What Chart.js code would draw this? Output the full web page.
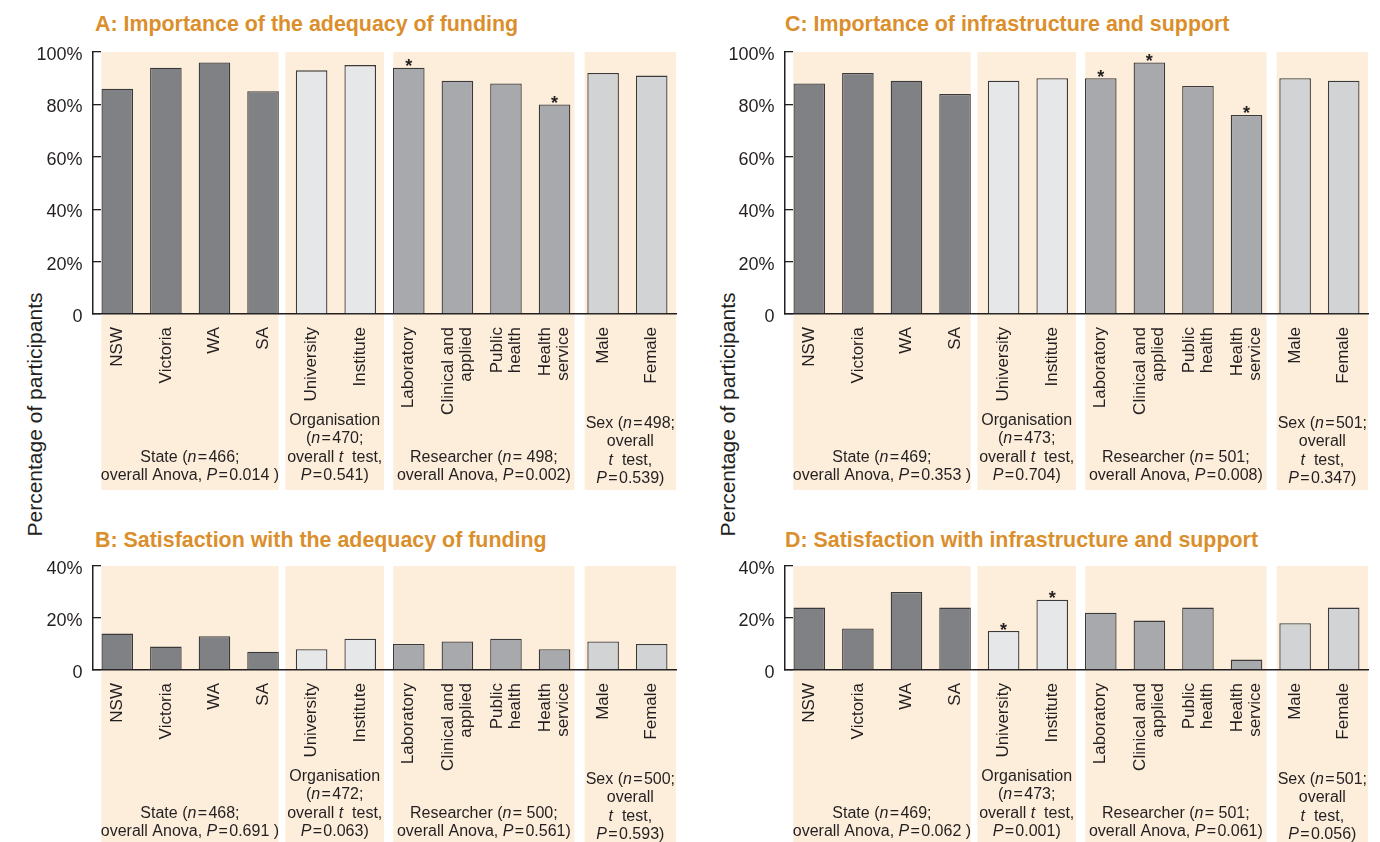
<!DOCTYPE html>
<html><head><meta charset="utf-8">
<script src="https://cdn.jsdelivr.net/npm/chart.js@4"></script>
<style>
html,body{margin:0;padding:0;background:#fff;}
body{width:1380px;height:842px;position:relative;overflow:hidden;font-family:"Liberation Sans",Arial,sans-serif;}
canvas{position:absolute;}
.title{position:absolute;font:bold 21.4px "Liberation Sans",Arial,sans-serif;color:#DB8F2C;line-height:21px;white-space:nowrap;}
.ytitle{position:absolute;width:400px;text-align:center;font:21px "Liberation Sans",Arial,sans-serif;color:#231F20;line-height:21px;transform:rotate(-90deg);white-space:nowrap;}
</style></head>
<body>
<div class="title" style="left:95px;top:14px">A: Importance of the adequacy of funding</div>
<div class="title" style="left:95px;top:530px">B: Satisfaction with the adequacy of funding</div>
<div class="title" style="left:785px;top:14px">C: Importance of infrastructure and support</div>
<div class="title" style="left:785px;top:530px">D: Satisfaction with infrastructure and support</div>
<div class="ytitle" style="left:-166px;top:404px">Percentage of participants</div>
<div class="ytitle" style="left:527px;top:404px">Percentage of participants</div>
<canvas id="cA" width="690" height="500" style="left:0;top:0"></canvas>
<canvas id="cB" width="690" height="322" style="left:0;top:520px"></canvas>
<canvas id="cC" width="690" height="500" style="left:690px;top:0"></canvas>
<canvas id="cD" width="690" height="322" style="left:690px;top:520px"></canvas>
<script>
// ---------- data ----------
const categories = [['NSW'],['Victoria'],['WA'],['SA'],['University'],['Institute'],['Laboratory'],['Clinical and','applied'],['Public','health'],['Health','service'],['Male'],['Female']];
const groupSizes = [4, 2, 4, 2];

const valuesA = [86, 94, 96, 85, 93, 95, 94, 89, 88, 80, 92, 91];
const valuesB = [14, 9, 13, 7, 8, 12, 10, 11, 12, 8, 11, 10];
const valuesC = [88, 92, 89, 84, 89, 90, 90, 96, 87, 76, 90, 89];
const valuesD = [24, 16, 30, 24, 15, 27, 22, 19, 24, 4, 18, 24];

const starsA = [6, 9];
const starsB = [];
const starsC = [6, 7, 9];
const starsD = [4, 5];

const yTicksImportance = [0, 20, 40, 60, 80, 100];
const yTicksSatisfaction = [0, 20, 40];

const groupLabelsA = [
  ['State (_n_\u200A=\u200A466;', 'overall Anova, _P_\u200A=\u200A0.014 )'],
  ['Organisation', '(_n_\u200A=\u200A470;', 'overall _t_  test,', '_P_\u200A=\u200A0.541)'],
  ['Researcher (_n_\u200A= 498;', 'overall Anova, _P_\u200A=\u200A0.002)'],
  ['Sex (_n_\u200A=\u200A498;', 'overall', '_t_  test,', '_P_\u200A=\u200A0.539)']
];
const groupLabelsB = [
  ['State (_n_\u200A=\u200A468;', 'overall Anova, _P_\u200A=\u200A0.691 )'],
  ['Organisation', '(_n_\u200A=\u200A472;', 'overall _t_  test,', '_P_\u200A=\u200A0.063)'],
  ['Researcher (_n_\u200A= 500;', 'overall Anova, _P_\u200A=\u200A0.561)'],
  ['Sex (_n_\u200A=\u200A500;', 'overall', '_t_  test,', '_P_\u200A=\u200A0.593)']
];
const groupLabelsC = [
  ['State (_n_\u200A=\u200A469;', 'overall Anova, _P_\u200A=\u200A0.353 )'],
  ['Organisation', '(_n_\u200A=\u200A473;', 'overall _t_  test,', '_P_\u200A=\u200A0.704)'],
  ['Researcher (_n_\u200A= 501;', 'overall Anova, _P_\u200A=\u200A0.008)'],
  ['Sex (_n_\u200A=\u200A501;', 'overall', '_t_  test,', '_P_\u200A=\u200A0.347)']
];
const groupLabelsD = [
  ['State (_n_\u200A=\u200A469;', 'overall Anova, _P_\u200A=\u200A0.062 )'],
  ['Organisation', '(_n_\u200A=\u200A473;', 'overall _t_  test,', '_P_\u200A=\u200A0.001)'],
  ['Researcher (_n_\u200A= 501;', 'overall Anova, _P_\u200A=\u200A0.061)'],
  ['Sex (_n_\u200A=\u200A501;', 'overall', '_t_  test,', '_P_\u200A=\u200A0.056)']
];

// ---------- style ----------
const FONT = '"Liberation Sans", Arial, sans-serif';
const INK = '#231F20';
const groupColors = ['#808184', '#E6E7E8', '#A7A9AC', '#D1D3D4'];
const bandColor = '#FDEEDC';
const bandEdges = [[-0.33, 0.32], [-0.54, 0.49], [-0.32, 0.41], [-0.38, 0.5]];
const groupDrop = [0, 0, 0, 3];

const barColors = [];
groupSizes.forEach((n, g) => { for (let i = 0; i < n; i++) barColors.push(groupColors[g]); });

function drawRich(ctx, text, cx, cy) {
  const parts = text.split('_');
  let total = 0;
  const widths = parts.map((p, i) => {
    ctx.font = (i % 2 ? 'italic ' : '') + '16px ' + FONT;
    const w = ctx.measureText(p).width; total += w; return w;
  });
  let x = cx - total / 2;
  parts.forEach((p, i) => {
    ctx.font = (i % 2 ? 'italic ' : '') + '16px ' + FONT;
    ctx.fillText(p, x, cy);
    x += widths[i];
  });
}

const panelPlugin = {
  id: 'panel',
  beforeDraw(chart, args, opts) {
    const { ctx, chartArea } = chart;
    const xs = chart.scales.x;
    // centre multi-line rotated tick labels on their category
    xs.getLabelItems(chart.chartArea).forEach(it => {
      const n = Array.isArray(it.label) ? it.label.length : 1;
      if (n > 1 && !it._centred) {
        it.options.translation[0] -= (n - 1) * it.font.lineHeight / 2;
        it._centred = true;
      }
    });
    const pitch = xs.getPixelForValue(1) - xs.getPixelForValue(0);
    ctx.save();
    ctx.fillStyle = bandColor;
    let start = 0;
    groupSizes.forEach((n, g) => {
      const x0 = xs.getPixelForValue(start) + bandEdges[g][0] * pitch;
      const x1 = xs.getPixelForValue(start + n - 1) + bandEdges[g][1] * pitch;
      ctx.fillRect(x0, chartArea.top, x1 - x0, chartArea.bottom + opts.depth - chartArea.top);
      start += n;
    });
    ctx.restore();
  },
  afterDatasetsDraw(chart, args, opts) {
    const { ctx } = chart;
    const meta = chart.getDatasetMeta(0);
    ctx.save();
    ctx.fillStyle = INK;
    ctx.font = 'bold 18px ' + FONT;
    ctx.textAlign = 'center';
    ctx.textBaseline = 'alphabetic';
    opts.stars.forEach(i => {
      const bar = meta.data[i];
      ctx.fillText('*', bar.x, bar.y + 4.5);
    });
    ctx.restore();
  },
  afterDraw(chart, args, opts) {
    const { ctx, chartArea } = chart;
    const xs = chart.scales.x;
    const pitch = xs.getPixelForValue(1) - xs.getPixelForValue(0);
    ctx.save();
    ctx.fillStyle = INK;
    ctx.textAlign = 'left';
    ctx.textBaseline = 'middle';
    let start = 0;
    groupSizes.forEach((n, g) => {
      const x0 = xs.getPixelForValue(start) + bandEdges[g][0] * pitch;
      const x1 = xs.getPixelForValue(start + n - 1) + bandEdges[g][1] * pitch;
      const cx = (x0 + x1) / 2;
      const lines = opts.groupText[g];
      const last = chartArea.bottom + opts.labelBase + groupDrop[g];
      lines.forEach((t, i) => {
        drawRich(ctx, t, cx, last - (lines.length - 1 - i) * 18.6);
      });
      start += n;
    });
    ctx.restore();
  }
};

function makeChart(id, values, stars, yTicks, groupText, leftW, rightPad, topPad, axisH, depth) {
  const yMax = yTicks[yTicks.length - 1];
  return new Chart(document.getElementById(id), {
    type: 'bar',
    data: {
      labels: categories,
      datasets: [{
        data: values,
        backgroundColor: barColors,
        borderColor: '#3A3A3A',
        borderWidth: 1.3,
        barPercentage: 0.65,
        categoryPercentage: 1
      }]
    },
    options: {
      responsive: false,
      animation: false,
      layout: { padding: { top: topPad, right: rightPad, left: 0, bottom: 0 } },
      plugins: {
        legend: { display: false },
        tooltip: { enabled: false },
        panel: { stars: stars, groupText: groupText, depth: depth, labelBase: 162 }
      },
      scales: {
        x: {
          grid: { drawOnChartArea: false, drawTicks: false },
          border: { display: true, color: INK, width: 1.5 },
          ticks: {
            autoSkip: false, maxRotation: 90, minRotation: 90, padding: 13,
            color: INK, font: { family: FONT, size: 17, lineHeight: 1.05 }
          },
          afterFit: s => { s.height = axisH; }
        },
        y: {
          min: 0, max: yMax,
          afterBuildTicks: s => { s.ticks = yTicks.map(v => ({ value: v })); },
          ticks: {
            padding: 18.5, labelOffset: 3, color: INK,
            font: { family: FONT, size: 18 },
            callback: v => (v === 0 ? '0' : v + '%')
          },
          grid: { drawOnChartArea: false, drawTicks: true, tickLength: -8, color: INK, lineWidth: 1.3 },
          border: { display: true, color: INK, width: 1.5 },
          afterFit: s => { s.width = leftW; }
        }
      }
    },
    plugins: [panelPlugin]
  });
}

makeChart('cA', valuesA, starsA, yTicksImportance, groupLabelsA, 93, 14, 52, 186, 176);
makeChart('cB', valuesB, starsB, yTicksSatisfaction, groupLabelsB, 93, 14, 46, 172, 172);
makeChart('cC', valuesC, starsC, yTicksImportance, groupLabelsC, 95, 12, 52, 186, 176);
makeChart('cD', valuesD, starsD, yTicksSatisfaction, groupLabelsD, 95, 12, 46, 172, 172);
</script>
</body></html>
